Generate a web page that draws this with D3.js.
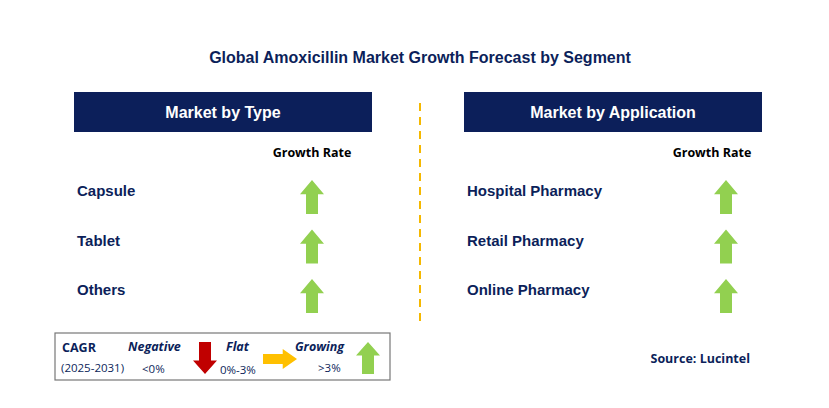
<!DOCTYPE html>
<meta charset="utf-8">
<script src="https://d3js.org/d3.v7.min.js"></script>
<style>body{margin:0;background:#fff}</style>
<svg id="chart" width="829" height="408"></svg>
<script>
// Data
var typeSegments = ["Capsule", "Tablet", "Others"];
var typeTrend = ["up", "up", "up"];
var appSegments = ["Hospital Pharmacy", "Retail Pharmacy", "Online Pharmacy"];
var appTrend = ["up", "up", "up"];

var svg = d3.select("#chart");
var navy = "#0c1f5a", green = "#92d050", font = "Arial, 'Liberation Sans', sans-serif";
var font2 = "'Open Sans', sans-serif";

svg.append("text").attr("x", 420).attr("y", 63).attr("text-anchor", "middle")
  .style("font-family", font).style("font-weight", "bold").style("font-size", "16px")
  .attr("fill", navy).text("Global Amoxicillin Market Growth Forecast by Segment");

// divider
svg.append("line").attr("x1", 420).attr("x2", 420).attr("y1", 103).attr("y2", 325)
  .attr("stroke", "#f5b800").attr("stroke-width", 2).attr("stroke-dasharray", "8,6");

var rowY = d3.scalePoint().domain([0, 1, 2]).range([191, 290]);

// up arrow path centred on (cx, cy)
function upArrow(cx, cy, w, h) {
  var s = w * 0.25, hh = h * 0.42;
  return "M" + cx + "," + (cy - h / 2) + "L" + (cx + w / 2) + "," + (cy - h / 2 + hh) +
    "L" + (cx + s) + "," + (cy - h / 2 + hh) + "L" + (cx + s) + "," + (cy + h / 2) +
    "L" + (cx - s) + "," + (cy + h / 2) + "L" + (cx - s) + "," + (cy - h / 2 + hh) +
    "L" + (cx - w / 2) + "," + (cy - h / 2 + hh) + "Z";
}

function panel(x0, title, cats, trend, labelX, arrowX) {
  svg.append("rect").attr("x", x0).attr("y", 92).attr("width", 298).attr("height", 40).attr("fill", navy);
  svg.append("text").attr("x", x0 + 149).attr("y", 118).attr("text-anchor", "middle")
    .style("font-family", font).style("font-weight", "bold").style("font-size", "16px")
    .attr("fill", "#fff").text(title);
  svg.append("text").attr("x", labelX).attr("y", 157).attr("text-anchor", "middle")
    .style("font-family", font2).style("font-weight", "bold")
    .style("font-size", "12.5px").attr("fill", "#000").text("Growth Rate");
  var g = svg.append("g");
  g.selectAll("text.cat").data(cats).enter().append("text")
    .attr("x", x0 + 3).attr("y", function (d, i) { return rowY(i) + 5; })
    .style("font-family", font).style("font-weight", "bold").style("font-size", "15px")
    .attr("fill", navy).text(function (d) { return d; });
  g.selectAll("path").data(trend).enter().append("path")
    .attr("d", function (d, i) { return upArrow(arrowX, rowY(i) + 6, 24, 34); })
    .attr("fill", green);
}
panel(74, "Market by Type", typeSegments, typeTrend, 312, 312);
panel(464, "Market by Application", appSegments, appTrend, 712, 726);

// Legend
var lg = svg.append("g");
lg.append("rect").attr("x", 55).attr("y", 333).attr("width", 335).attr("height", 47)
  .attr("fill", "#fff").attr("stroke", "#777").attr("stroke-width", 1.2);
var lt = function (x, y, t, opts) {
  var e = lg.append("text").attr("x", x).attr("y", y).style("font-family", font2)
    .style("font-size", "11.5px").attr("fill", navy).text(t);
  if (opts) for (var k in opts) e.style(k, opts[k]);
  return e;
};
lt(62, 352, "CAGR", { "font-weight": "bold", "font-size": "12.5px" });
lt(61, 372, "(2025-2031)", {});
lt(128, 351, "Negative", { "font-weight": "bold", "font-style": "italic", "font-size": "12.5px" });
lt(142, 373, "<0%", {});
lt(226, 351, "Flat", { "font-weight": "bold", "font-style": "italic", "font-size": "12.5px" });
lt(220, 374, "0%-3%", {});
lt(295, 351, "Growing", { "font-weight": "bold", "font-style": "italic", "font-size": "12.5px" });
lt(318, 372, ">3%", {});
// down red arrow
lg.append("path").attr("d", upArrow(205, 358, 24, 32)).attr("fill", "#c00000")
  .attr("transform", "rotate(180,205,358)");
// right orange arrow
lg.append("path").attr("d", upArrow(280, 359, 20, 34)).attr("fill", "#ffc000")
  .attr("transform", "rotate(90,280,359)");
lg.append("path").attr("d", upArrow(368, 358, 24, 32)).attr("fill", green);

svg.append("text").attr("x", 750).attr("y", 363).attr("text-anchor", "end")
  .style("font-family", font2).style("font-weight", "bold")
  .style("font-size", "12.5px").attr("fill", navy).text("Source: Lucintel");
</script>
